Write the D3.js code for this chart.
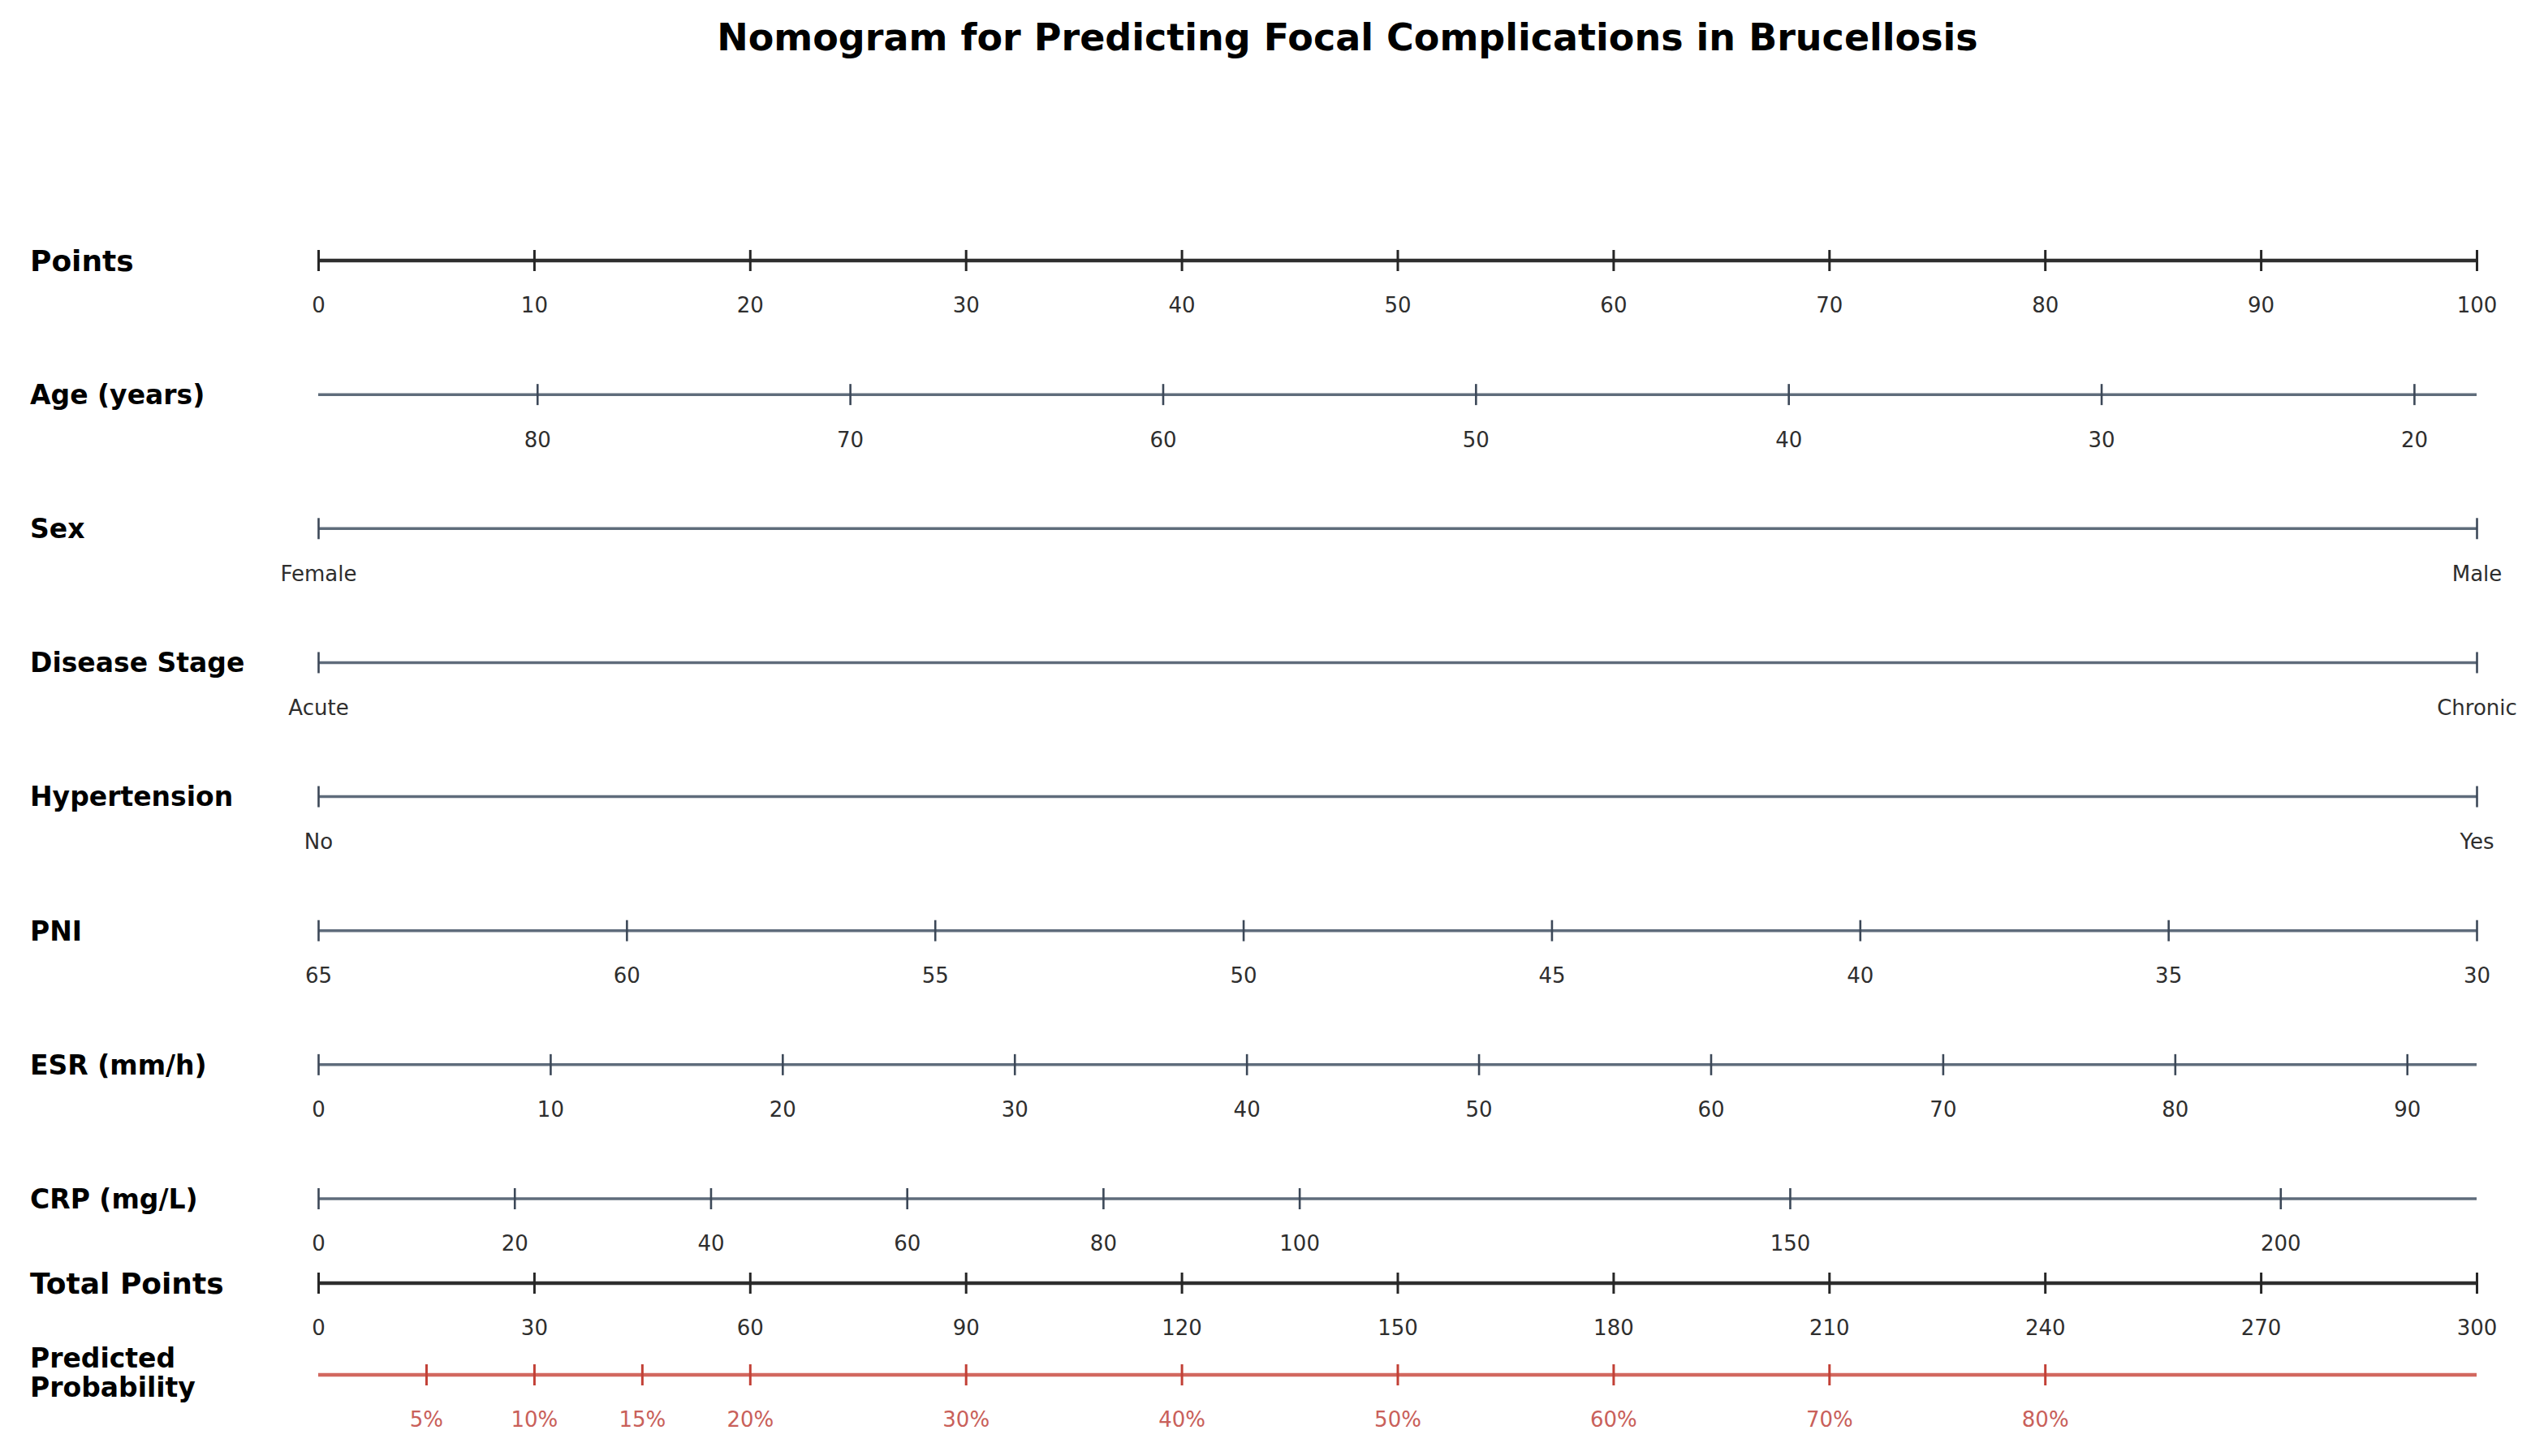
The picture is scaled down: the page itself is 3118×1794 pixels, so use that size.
<!DOCTYPE html>
<html>
<head>
<meta charset="utf-8">
<title>Nomogram for Predicting Focal Complications in Brucellosis</title>
<script src="https://cdn.jsdelivr.net/npm/d3@7/dist/d3.min.js"></script>
<style>
  html, body { margin: 0; padding: 0; background: #fff; }
  svg { display: block; font-family: "DejaVu Sans", sans-serif; }
</style>
</head>
<body>
<div id="chart"></div>
<script>
// Nomogram: one horizontal scale per predictor.

const pointsTicks = [0, 10, 20, 30, 40, 50, 60, 70, 80, 90, 100];
const ageDomain = [87, 18];
const ageTicks = [80, 70, 60, 50, 40, 30, 20];
const sexLevels = ['Female', 'Male'];
const stageLevels = ['Acute', 'Chronic'];
const htnLevels = ['No', 'Yes'];
const pniDomain = [65, 30];
const pniTicks = [65, 60, 55, 50, 45, 40, 35, 30];
const esrDomain = [0, 93];
const esrTicks = [0, 10, 20, 30, 40, 50, 60, 70, 80, 90];
const crpDomain = [0, 220];
const crpTicks = [0, 20, 40, 60, 80, 100, 150, 200];
const totalTicks = [0, 30, 60, 90, 120, 150, 180, 210, 240, 270, 300];
const probDomain = [0, 1];
const probTicks = [0.05, 0.10, 0.15, 0.20, 0.30, 0.40, 0.50, 0.60, 0.70, 0.80];

const W = 3118, H = 1794;
const x0 = 392, x1 = 3051;
const labelX = 37;
const TICK = 13;        // half tick length
const LABEL_DY = 55;    // tick label centre below the line

const C = {
  main: '#2e2e2e', mainTick: '#262626',
  vari: '#5f6c7b', variTick: '#3c4858',
  prob: '#d2685f', probTick: '#c24036', probText: '#c9605a',
  text: '#2e2e2e'
};

const svg = d3.select('#chart').append('svg')
  .attr('width', W).attr('height', H)
  .attr('viewBox', `0 0 ${W} ${H}`);

svg.append('text')
  .attr('x', 1660).attr('y', 62)
  .attr('text-anchor', 'middle')
  .style('font-size', '46px').style('font-weight', 'bold').style('fill', '#000')
  .text('Nomogram for Predicting Focal Complications in Brucellosis');

// row positions
const rowNames = ['Points', 'Age (years)', 'Sex', 'Disease Stage', 'Hypertension', 'PNI', 'ESR (mm/h)', 'CRP (mg/L)'];
const yRow = d3.scalePoint().domain(rowNames).range([321, 1477]);
const yTotal = 1581, yProb = 1694;

function drawRow(cfg) {
  const g = svg.append('g').attr('class', 'row');
  const st = C[cfg.kind];
  const stTick = C[cfg.kind + 'Tick'];

  g.append('line')
    .attr('x1', x0).attr('x2', x1)
    .attr('y1', cfg.y).attr('y2', cfg.y)
    .attr('stroke', st)
    .attr('stroke-width', cfg.kind === 'vari' ? 3.5 : 4.5);

  const axis = d3.axisBottom(cfg.scale)
    .tickValues(cfg.ticks)
    .tickSize(TICK * 2)
    .tickPadding(0)
    .tickFormat(cfg.format || (d => d));

  const ag = g.append('g')
    .attr('transform', `translate(0, ${cfg.y - TICK})`)
    .call(axis);
  ag.select('.domain').remove();
  ag.selectAll('.tick line')
    .attr('stroke', stTick)
    .attr('stroke-width', cfg.kind === 'vari' ? 2.6 : 3);
  ag.selectAll('.tick text')
    .attr('y', TICK + LABEL_DY)
    .attr('dy', '0.36em')
    .style('font-family', '"DejaVu Sans", sans-serif')
    .style('font-size', '26px')
    .style('fill', cfg.kind === 'prob' ? C.probText : C.text);

  const lab = g.append('text')
    .attr('x', labelX)
    .style('font-weight', 'bold')
    .style('font-size', cfg.big ? '36px' : '33px')
    .style('fill', '#000');
  const lines = [].concat(cfg.label);
  if (lines.length === 1) {
    lab.attr('y', cfg.y).attr('dy', '0.36em').text(lines[0]);
  } else {
    lab.selectAll('tspan').data(lines).enter().append('tspan')
      .attr('x', labelX)
      .attr('y', (d, i) => cfg.y - 9 + i * 36)
      .text(d => d);
  }
}

const lin = (dom) => d3.scaleLinear().domain(dom).range([x0, x1]);
const cat = (lv) => d3.scalePoint().domain(lv).range([x0, x1]);

drawRow({ label: 'Points', y: yRow('Points'), kind: 'main', big: true,
  scale: lin([0, 100]), ticks: pointsTicks });
drawRow({ label: 'Age (years)', y: yRow('Age (years)'), kind: 'vari',
  scale: lin(ageDomain), ticks: ageTicks });
drawRow({ label: 'Sex', y: yRow('Sex'), kind: 'vari',
  scale: cat(sexLevels), ticks: sexLevels });
drawRow({ label: 'Disease Stage', y: yRow('Disease Stage'), kind: 'vari',
  scale: cat(stageLevels), ticks: stageLevels });
drawRow({ label: 'Hypertension', y: yRow('Hypertension'), kind: 'vari',
  scale: cat(htnLevels), ticks: htnLevels });
drawRow({ label: 'PNI', y: yRow('PNI'), kind: 'vari',
  scale: lin(pniDomain), ticks: pniTicks });
drawRow({ label: 'ESR (mm/h)', y: yRow('ESR (mm/h)'), kind: 'vari',
  scale: lin(esrDomain), ticks: esrTicks });
drawRow({ label: 'CRP (mg/L)', y: yRow('CRP (mg/L)'), kind: 'vari',
  scale: lin(crpDomain), ticks: crpTicks });
drawRow({ label: 'Total Points', y: yTotal, kind: 'main', big: true,
  scale: d3.scaleLinear().domain([0, 300]).range([x0, x1]), ticks: totalTicks });
drawRow({ label: ['Predicted', 'Probability'], y: yProb, kind: 'prob',
  scale: lin(probDomain), ticks: probTicks, format: d3.format('.0%') });
</script>
</body>
</html>
